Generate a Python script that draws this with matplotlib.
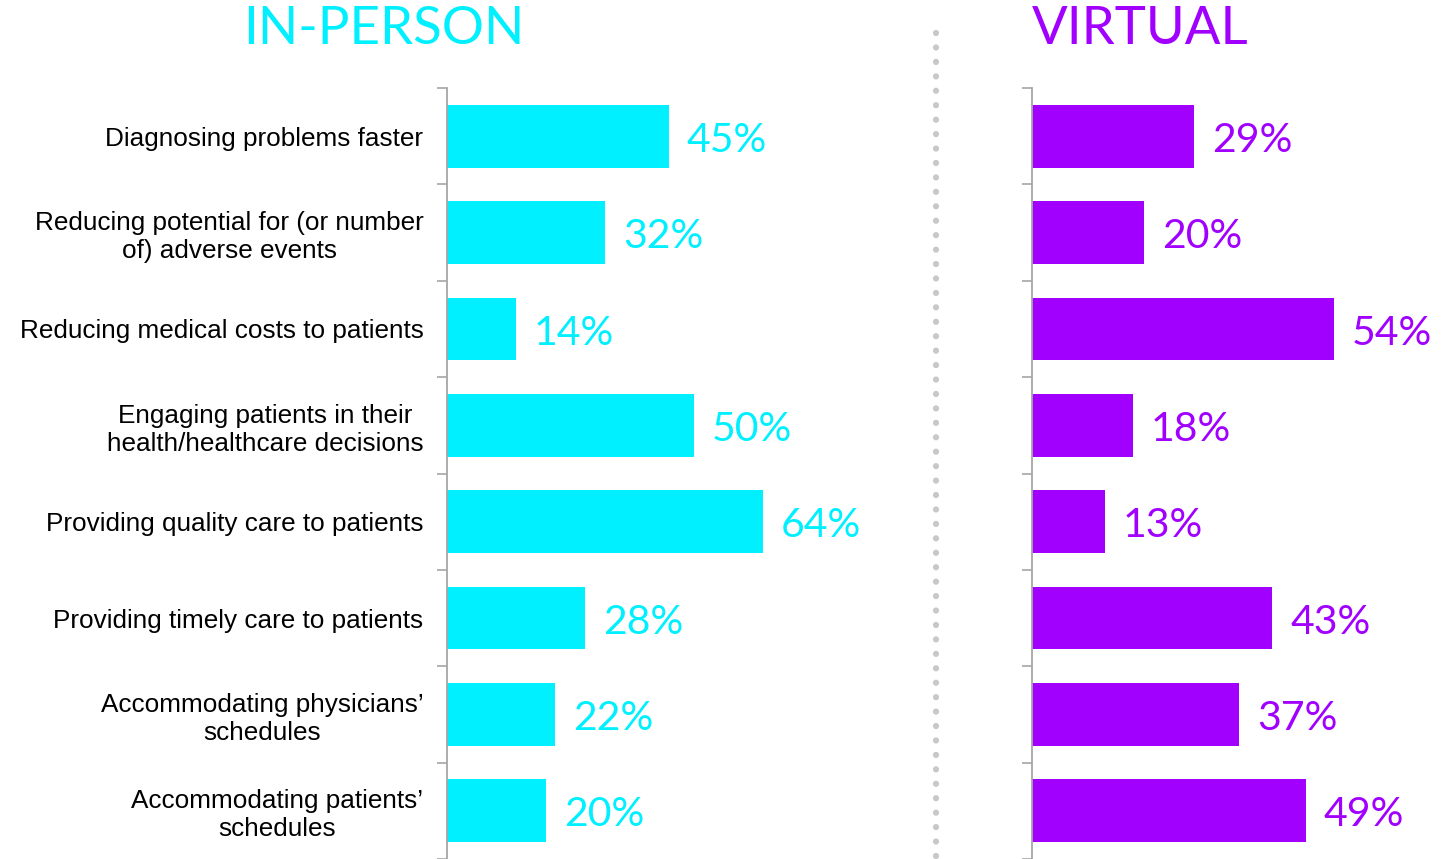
import numpy as np
import matplotlib
matplotlib.use("Agg")
import matplotlib.pyplot as plt

# chart data
categories = [
    "Diagnosing problems faster",
    "Reducing potential for (or number\nof) adverse events",
    "Reducing medical costs to patients",
    "Engaging patients in their\nhealth/healthcare decisions",
    "Providing quality care to patients",
    "Providing timely care to patients",
    "Accommodating physicians\u2019\nschedules",
    "Accommodating patients\u2019\nschedules",
]
in_person = [45, 32, 14, 50, 64, 28, 22, 20]
virtual = [29, 20, 54, 18, 13, 43, 37, 49]
panel_titles = ["IN-PERSON", "VIRTUAL"]

CYAN = "#00F0FF"
PURPLE = "#A100FF"
SPINE = "#a6a6a6"

W, H = 1441, 859
fig = plt.figure(figsize=(W / 100, H / 100), dpi=100)

def px_axes(x0, x1, y0, y1):
    # pixel box (top-left origin) -> figure fraction
    return fig.add_axes([x0 / W, 1 - y1 / H, (x1 - x0) / W, (y1 - y0) / H])

n = len(categories)
ypos = np.arange(n)

def draw_panel(ax, values, color, show_labels, xmax):
    ax.barh(ypos, values, height=0.65, color=color)
    ax.set_ylim(n - 0.5, -0.5)
    ax.set_xlim(0, xmax)
    for s in ["top", "right", "bottom"]:
        ax.spines[s].set_visible(False)
    ax.spines["left"].set_color(SPINE)
    ax.spines["left"].set_linewidth(1.3)
    ax.set_xticks([])
    ax.set_yticks(ypos)
    ax.set_yticks(np.arange(n + 1) - 0.5, minor=True)
    ax.tick_params(axis="y", which="major", length=0, pad=17)
    ax.tick_params(axis="y", which="minor", length=7, width=1.2, color=SPINE)
    if show_labels:
        ax.set_yticklabels(categories, fontsize=18.8, family="Liberation Sans",
                           linespacing=1.22)
        for lbl in ax.get_yticklabels():
            lbl.set_multialignment("center")
    else:
        ax.set_yticklabels([])
    for y, v in zip(ypos, values):
        ax.annotate(f"{v}%", (v, y), xytext=(13, -3), textcoords="offset points",
                    va="center", ha="left", fontsize=29.5, color=color,
                    family="Lato", clip_on=False)

ax1 = px_axes(447, 447 + 80 * 4.93, 88, 859)
draw_panel(ax1, in_person, CYAN, True, 80)
ax2 = px_axes(1032, 1032 + 60 * 5.59, 88, 859)
draw_panel(ax2, virtual, PURPLE, False, 60)

fig.text(384 / W, 1 - 30 / H, panel_titles[0], ha="center", va="center",
         fontsize=38, color=CYAN, family="Lato")
fig.text(1140 / W, 1 - 30 / H, panel_titles[1], ha="center", va="center",
         fontsize=38, color=PURPLE, family="Lato")

# dotted divider
fig.add_artist(plt.Line2D([936 / W, 936 / W], [1 - 33 / H, 0], color="#c8c8c8",
                          linestyle=(0, (0.01, 2.3)), linewidth=4.5,
                          dash_capstyle="round", solid_capstyle="round"))

fig.savefig("out.png", dpi=100, facecolor="white")
